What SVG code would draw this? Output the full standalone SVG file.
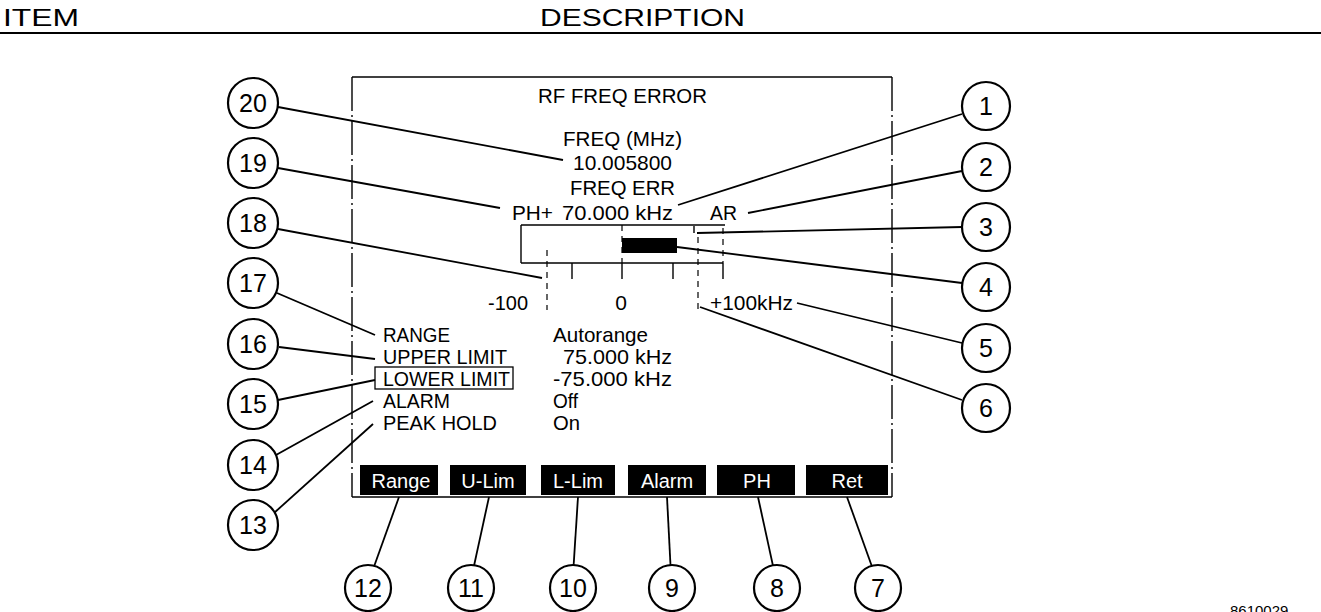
<svg xmlns="http://www.w3.org/2000/svg" width="1321" height="612" viewBox="0 0 1321 612">
<defs>
<style>
text{font-family:"Liberation Sans",Arial,sans-serif;fill:#000}
.hdr{font-size:24px}
.scr{font-size:21px}
.num{font-size:25px;text-anchor:middle}
.key{font-size:20px;fill:#fff;text-anchor:middle}
.ld{stroke:#000;stroke-width:1.8;fill:none}
.cir{fill:#fff;stroke:#000;stroke-width:2.2}
.edge{stroke:#000;stroke-width:1.4;fill:none}
.dash{stroke:#000;stroke-width:1.2;stroke-dasharray:6 5;fill:none}
.sk{fill:#000}
</style>
</defs>
<rect width="1321" height="612" fill="#fff"/>
<g id="header">
<text class="hdr" x="3" y="26" textLength="76" lengthAdjust="spacingAndGlyphs">ITEM</text>
<text class="hdr" x="540" y="26" textLength="205" lengthAdjust="spacingAndGlyphs">DESCRIPTION</text>
<line x1="0" y1="33" x2="1321" y2="33" stroke="#000" stroke-width="2.2"/>
</g>
<g id="screen">
<line class="edge" x1="352" y1="77" x2="892" y2="77"/>
<line class="edge" x1="352" y1="77" x2="352" y2="497" stroke-dasharray="34 4 2 4"/>
<line class="edge" x1="892" y1="77" x2="892" y2="497" stroke-dasharray="34 4 2 4"/>
<line class="edge" x1="352" y1="497" x2="892" y2="497"/>
<text class="scr" x="538" y="103" textLength="169" lengthAdjust="spacingAndGlyphs">RF FREQ ERROR</text>
<text class="scr" x="563" y="146" textLength="119" lengthAdjust="spacingAndGlyphs">FREQ (MHz)</text>
<text class="scr" x="573" y="170" textLength="99" lengthAdjust="spacingAndGlyphs">10.005800</text>
<text class="scr" x="570" y="195" textLength="105" lengthAdjust="spacingAndGlyphs">FREQ ERR</text>
<text class="scr" x="512" y="220" textLength="41" lengthAdjust="spacingAndGlyphs">PH+</text>
<text class="scr" x="562" y="220" textLength="111" lengthAdjust="spacingAndGlyphs">70.000 kHz</text>
<text class="scr" x="710" y="220" textLength="27" lengthAdjust="spacingAndGlyphs">AR</text>
</g>
<g id="bargraph">
<line class="edge" x1="521" y1="225" x2="725" y2="225"/>
<line class="edge" x1="521" y1="225" x2="521" y2="263"/>
<line class="edge" x1="521" y1="263" x2="723" y2="263" stroke-width="1.8"/>
<line class="edge" x1="572" y1="263" x2="572" y2="279"/>
<line class="edge" x1="622" y1="263" x2="622" y2="279"/>
<line class="edge" x1="673" y1="263" x2="673" y2="279"/>
<line class="edge" x1="723" y1="263" x2="723" y2="279"/>
<line class="dash" x1="622" y1="225" x2="622" y2="263"/>
<line class="dash" x1="723" y1="228" x2="723" y2="263"/>
<line class="dash" x1="547" y1="250" x2="547" y2="310"/>
<line class="dash" x1="698" y1="237" x2="698" y2="310"/>
<line class="edge" x1="694" y1="226" x2="694" y2="233"/>
<rect x="622" y="238" width="55" height="15" fill="#000"/>
<text class="scr" x="488" y="310" textLength="40" lengthAdjust="spacingAndGlyphs">-100</text>
<text class="scr" x="621" y="310" text-anchor="middle">0</text>
<text class="scr" x="710" y="310" textLength="83" lengthAdjust="spacingAndGlyphs">+100kHz</text>
</g>
<g id="settings">
<text class="scr" x="383" y="342" textLength="67" lengthAdjust="spacingAndGlyphs">RANGE</text>
<text class="scr" x="383" y="364" textLength="124" lengthAdjust="spacingAndGlyphs">UPPER LIMIT</text>
<text class="scr" x="383" y="386" textLength="127" lengthAdjust="spacingAndGlyphs">LOWER LIMIT</text>
<text class="scr" x="383" y="408" textLength="67" lengthAdjust="spacingAndGlyphs">ALARM</text>
<text class="scr" x="383" y="430" textLength="114" lengthAdjust="spacingAndGlyphs">PEAK HOLD</text>
<rect x="375" y="367" width="138" height="22" fill="none" stroke="#000" stroke-width="1.3"/>
<text class="scr" x="553" y="342" textLength="95" lengthAdjust="spacingAndGlyphs">Autorange</text>
<text class="scr" x="563" y="364" textLength="109" lengthAdjust="spacingAndGlyphs">75.000 kHz</text>
<text class="scr" x="553" y="386" textLength="119" lengthAdjust="spacingAndGlyphs">-75.000 kHz</text>
<text class="scr" x="553" y="408" textLength="25" lengthAdjust="spacingAndGlyphs">Off</text>
<text class="scr" x="553" y="430" textLength="27" lengthAdjust="spacingAndGlyphs">On</text>
</g>
<g id="softkeys">
<rect class="sk" x="360" y="465" width="78" height="30"/>
<text class="key" x="401" y="488">Range</text>
<rect class="sk" x="450" y="465" width="76" height="30"/>
<text class="key" x="488" y="488">U-Lim</text>
<rect class="sk" x="541" y="465" width="74" height="30"/>
<text class="key" x="578" y="488">L-Lim</text>
<rect class="sk" x="628" y="465" width="78" height="30"/>
<text class="key" x="667" y="488">Alarm</text>
<rect class="sk" x="717" y="465" width="78" height="30"/>
<text class="key" x="757" y="488">PH</text>
<rect class="sk" x="806" y="465" width="82" height="30"/>
<text class="key" x="847" y="488">Ret</text>
</g>
<g id="connectors">
<line class="ld" x1="278" y1="107" x2="563" y2="160"/>
<line class="ld" x1="278" y1="168" x2="500" y2="208"/>
<line class="ld" x1="278" y1="229" x2="542" y2="278"/>
<line class="ld" x1="277" y1="293" x2="375" y2="335"/>
<line class="ld" x1="279" y1="347" x2="375" y2="359"/>
<line class="ld" x1="278" y1="400" x2="375" y2="380"/>
<line class="ld" x1="276" y1="455" x2="373" y2="401"/>
<line class="ld" x1="274" y1="513" x2="373" y2="424"/>
<line class="ld" x1="962" y1="114" x2="678" y2="205"/>
<line class="ld" x1="962" y1="171" x2="748" y2="213"/>
<line class="ld" x1="962" y1="227" x2="697" y2="233"/>
<line class="ld" x1="962" y1="283" x2="677" y2="247"/>
<line class="ld" x1="962" y1="343" x2="797" y2="303"/>
<line class="ld" x1="962" y1="400" x2="700" y2="307"/>
<line class="ld" x1="399" y1="497" x2="371" y2="575"/>
<line class="ld" x1="489" y1="497" x2="472" y2="575"/>
<line class="ld" x1="578" y1="497" x2="573" y2="575"/>
<line class="ld" x1="667" y1="497" x2="671" y2="575"/>
<line class="ld" x1="758" y1="497" x2="775" y2="575"/>
<line class="ld" x1="847" y1="497" x2="875" y2="575"/>
</g>
<g id="c20"><circle class="cir" cx="253" cy="103" r="25"/><text class="num" x="253" y="112">20</text></g>
<g id="c19"><circle class="cir" cx="253" cy="163" r="25"/><text class="num" x="253" y="172">19</text></g>
<g id="c18"><circle class="cir" cx="253" cy="223" r="25"/><text class="num" x="253" y="232">18</text></g>
<g id="c17"><circle class="cir" cx="253" cy="283" r="25"/><text class="num" x="253" y="292">17</text></g>
<g id="c16"><circle class="cir" cx="253" cy="344" r="25"/><text class="num" x="253" y="353">16</text></g>
<g id="c15"><circle class="cir" cx="253" cy="404" r="25"/><text class="num" x="253" y="413">15</text></g>
<g id="c14"><circle class="cir" cx="253" cy="465" r="25"/><text class="num" x="253" y="474">14</text></g>
<g id="c13"><circle class="cir" cx="253" cy="525" r="25"/><text class="num" x="253" y="534">13</text></g>
<g id="c1"><circle class="cir" cx="986" cy="106" r="24"/><text class="num" x="986" y="115">1</text></g>
<g id="c2"><circle class="cir" cx="986" cy="167" r="24"/><text class="num" x="986" y="176">2</text></g>
<g id="c3"><circle class="cir" cx="986" cy="227" r="24"/><text class="num" x="986" y="236">3</text></g>
<g id="c4"><circle class="cir" cx="986" cy="287" r="24"/><text class="num" x="986" y="296">4</text></g>
<g id="c5"><circle class="cir" cx="986" cy="348" r="24"/><text class="num" x="986" y="357">5</text></g>
<g id="c6"><circle class="cir" cx="986" cy="408" r="24"/><text class="num" x="986" y="417">6</text></g>
<g id="c12"><circle class="cir" cx="368" cy="588" r="23"/><text class="num" x="368" y="597">12</text></g>
<g id="c11"><circle class="cir" cx="471" cy="588" r="23"/><text class="num" x="471" y="597">11</text></g>
<g id="c10"><circle class="cir" cx="573" cy="588" r="23"/><text class="num" x="573" y="597">10</text></g>
<g id="c9"><circle class="cir" cx="672" cy="588" r="23"/><text class="num" x="672" y="597">9</text></g>
<g id="c8"><circle class="cir" cx="777" cy="588" r="23"/><text class="num" x="777" y="597">8</text></g>
<g id="c7"><circle class="cir" cx="878" cy="588" r="23"/><text class="num" x="878" y="597">7</text></g>
<text x="1230" y="616" font-size="15">8610029</text>
</svg>
